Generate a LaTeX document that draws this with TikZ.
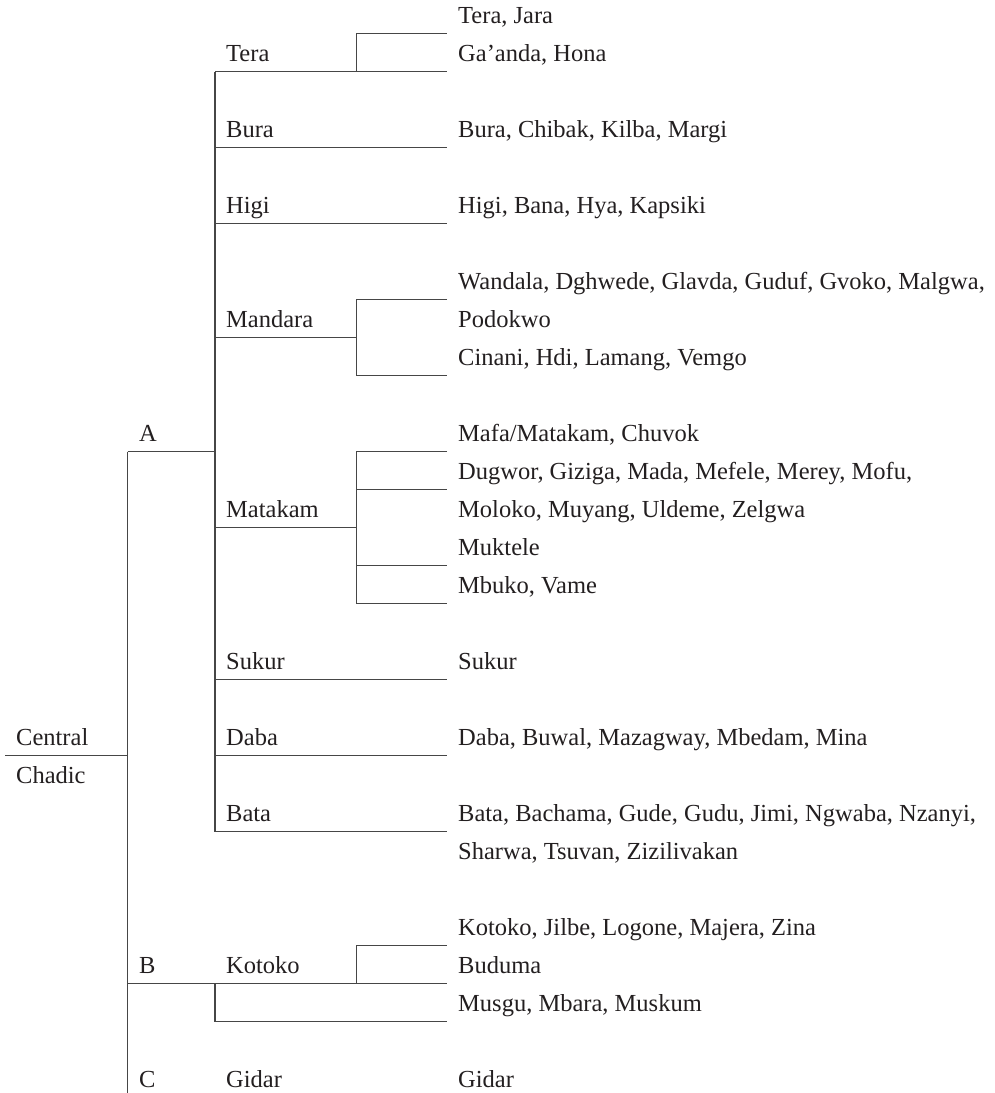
\documentclass[tikz,border=0pt]{standalone}
\usepackage{fontspec}
\setmainfont{Liberation Serif}
\usepackage{tikz}
\definecolor{treeline}{RGB}{70,70,70}
\definecolor{treetext}{RGB}{35,31,32}
\tikzset{
	lbl/.style = {anchor = base west, inner sep = 0pt, text = treetext, font = \fontsize{24.5}{29}\selectfont},
	branch/.style = {draw = treeline, line width = 1.3pt}
}

\begin{document}
\begin{tikzpicture}[x = 1pt, y = -1pt]
	\useasboundingbox (0,0) rectangle (994,1093);
	% root and top level
	\node (central) at (16,745.7) [lbl] {Central};
	\node (chadic) at (16,783.7) [lbl] {Chadic};
	\node (gA) at (139,441.7) [lbl] {A};
	\node (gB) at (139,973.7) [lbl] {B};
	\node (gC) at (139,1087.7) [lbl] {C};
	% groups
	\node (tera) at (226,61.7) [lbl] {Tera};
	\node (bura) at (226,137.7) [lbl] {Bura};
	\node (higi) at (226,213.7) [lbl] {Higi};
	\node (mandara) at (226,327.7) [lbl] {Mandara};
	\node (matakam) at (226,517.7) [lbl] {Matakam};
	\node (sukur) at (226,669.7) [lbl] {Sukur};
	\node (daba) at (226,745.7) [lbl] {Daba};
	\node (bata) at (226,821.7) [lbl] {Bata};
	\node (kotoko) at (226,973.7) [lbl] {Kotoko};
	\node (gidar) at (226,1087.7) [lbl] {Gidar};
	% languages
	\node (l0) at (458,23.7) [lbl] {Tera, Jara};
	\node (l1) at (458,61.7) [lbl] {Ga’anda, Hona};
	\node (l3) at (458,137.7) [lbl] {Bura, Chibak, Kilba, Margi};
	\node (l5) at (458,213.7) [lbl] {Higi, Bana, Hya, Kapsiki};
	\node (l7) at (458,289.7) [lbl] {Wandala, Dghwede, Glavda, Guduf, Gvoko, Malgwa,};
	\node (l8) at (458,327.7) [lbl] {Podokwo};
	\node (l9) at (458,365.7) [lbl] {Cinani, Hdi, Lamang, Vemgo};
	\node (l11) at (458,441.7) [lbl] {Mafa/Matakam, Chuvok};
	\node (l12) at (458,479.7) [lbl] {Dugwor, Giziga, Mada, Mefele, Merey, Mofu,};
	\node (l13) at (458,517.7) [lbl] {Moloko, Muyang, Uldeme, Zelgwa};
	\node (l14) at (458,555.7) [lbl] {Muktele};
	\node (l15) at (458,593.7) [lbl] {Mbuko, Vame};
	\node (l17) at (458,669.7) [lbl] {Sukur};
	\node (l19) at (458,745.7) [lbl] {Daba, Buwal, Mazagway, Mbedam, Mina};
	\node (l21) at (458,821.7) [lbl] {Bata, Bachama, Gude, Gudu, Jimi, Ngwaba, Nzanyi,};
	\node (l22) at (458,859.7) [lbl] {Sharwa, Tsuvan, Zizilivakan};
	\node (l24) at (458,935.7) [lbl] {Kotoko, Jilbe, Logone, Majera, Zina};
	\node (l25) at (458,973.7) [lbl] {Buduma};
	\node (l26) at (458,1011.7) [lbl] {Musgu, Mbara, Muskum};
	\node (l28) at (458,1087.7) [lbl] {Gidar};

	% junctions
	\coordinate (root) at (5,755.7);
	\coordinate (rootj) at (127.7,755.7);
	\coordinate (mainTop) at (127.7,451.7);
	\coordinate (mainBot) at (127.7,1093);
	\coordinate (aj) at (215,451.7);
	\coordinate (teraj) at (215,71.7);
	\coordinate (bataj) at (215,831.7);
	\coordinate (bj) at (127.7,983.7);
	\coordinate (kotj) at (215,983.7);
	\coordinate (teri) at (356.7,71.7);
	\coordinate (mandi) at (356.7,337.7);
	\coordinate (mati) at (356.7,527.7);
	\coordinate (koti) at (356.7,983.7);
	% leaf ends
	\coordinate (e0) at (447,33.7);
	\coordinate (e1) at (447,71.7);
	\coordinate (e3) at (447,147.7);
	\coordinate (e5) at (447,223.7);
	\coordinate (e7) at (447,299.7);
	\coordinate (e9) at (447,375.7);
	\coordinate (e11) at (447,451.7);
	\coordinate (e12) at (447,489.7);
	\coordinate (e14) at (447,565.7);
	\coordinate (e15) at (447,603.7);
	\coordinate (e17) at (447,679.7);
	\coordinate (e19) at (447,755.7);
	\coordinate (e21) at (447,831.7);
	\coordinate (e24) at (447,945.7);
	\coordinate (e25) at (447,983.7);
	\coordinate (e26) at (447,1021.7);

	% branches
	\draw[branch] (root) -- (rootj);
	\draw[branch] (mainTop) -- (mainBot);
	\draw[branch] (mainTop) -- (aj);
	\draw[branch] (teraj) -- (bataj);
	\draw[branch] (teraj) -- (e1);
	\draw[branch] (teri) |- (e0);
	\draw[branch] (teraj |- e3) -- (e3);
	\draw[branch] (teraj |- e5) -- (e5);
	\draw[branch] (teraj |- mandi) -- (mandi);
	\draw[branch] (e7) -| (mandi) |- (e9);
	\draw[branch] (teraj |- mati) -- (mati);
	\draw[branch] (e11) -| (mati) |- (e15);
	\draw[branch] (mati |- e12) -- (e12);
	\draw[branch] (mati |- e14) -- (e14);
	\draw[branch] (teraj |- e17) -- (e17);
	\draw[branch] (teraj |- e19) -- (e19);
	\draw[branch] (bataj) -- (e21);
	\draw[branch] (bj) -- (e25);
	\draw[branch] (koti) |- (e24);
	\draw[branch] (kotj) |- (e26);
\end{tikzpicture}
\end{document}
